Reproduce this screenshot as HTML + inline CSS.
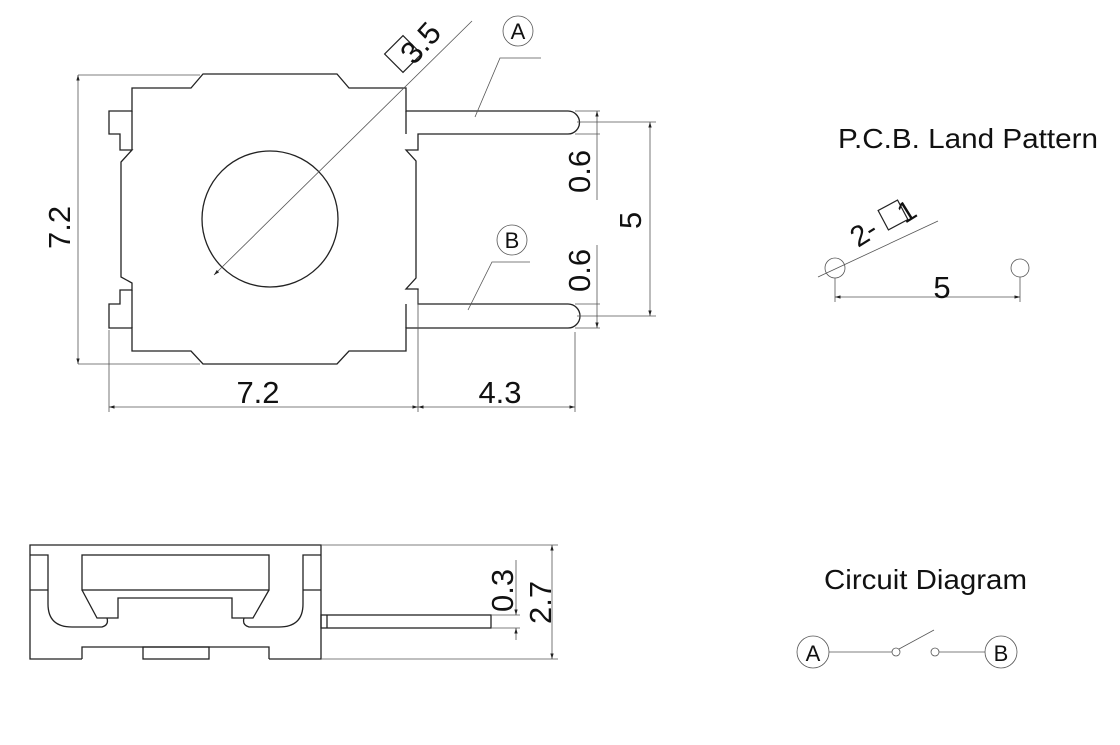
<!DOCTYPE html>
<html><head><meta charset="utf-8"><style>
html,body{margin:0;padding:0;background:#fff;}
svg{display:block;}
text{font-family:"Liberation Sans",sans-serif;fill:#111;}
</style></head><body>
<svg width="1120" height="745" viewBox="0 0 1120 745" xmlns="http://www.w3.org/2000/svg">
<defs>
<marker id="ar" viewBox="0 0 10 6" refX="10" refY="3" markerWidth="7" markerHeight="5" orient="auto-start-reverse"><path d="M0,0 L10,3 L0,6 z" fill="#222"/></marker>
</defs>
<g fill="none" stroke="#222" stroke-width="1.3">
<path d="M132,88 L191,88 L203,74 L337,74 L349,88 L406,88 L406,111 L568,111 A11.5,11.5 0 0 1 568,134 L418,134 L418,150 L406,150 L416,161 L416,278 L406,289 L418,289 L418,304 L568,304 A12,12 0 0 1 568,328 L406,328 L406,351 L349,351 L337,364 L203,364 L191,351 L132,351 L132,328 L109,328 L109,304 L120,304 L120,290 L132,290 L132,283 L121,277 L121,162 L132,150 L120,150 L120,134 L109,134 L109,111 L132,111 Z"/>
<line x1="132" y1="111" x2="132" y2="150"/>
<line x1="132" y1="290" x2="132" y2="328"/>
<line x1="406" y1="111" x2="406" y2="134"/>
<line x1="406" y1="304" x2="406" y2="328"/>
<circle cx="270" cy="219" r="68"/>
<!-- side view -->
<path d="M82,659 L30,659 L30,545 L321,545 L321,659 L269,659"/>
<path d="M30,555 L48,555 L48,604 Q48,627 72,627 L102,627 Q109,625 107,618"/>
<path d="M321,555 L303,555 L303,604 Q303,627 279,627 L249,627 Q242,625 244,618"/>
<rect x="82" y="555" width="187" height="35"/>
<line x1="30" y1="590" x2="48" y2="590"/><line x1="303" y1="590" x2="321" y2="590"/>
<path d="M82,590 L97,618 L118,618 L118,598 L232,598 L232,618 L253,618 L269,590"/>
<path d="M82,659 L82,647 L269,647 L269,659"/>
<rect x="143" y="647" width="66" height="12"/>
<rect x="321" y="615" width="170" height="13"/>
<line x1="327" y1="615" x2="327" y2="628"/>
</g>
<g fill="none" stroke="#555" stroke-width="0.8">
<line x1="214" y1="275" x2="472" y2="21" marker-start="url(#ar)"/>
<polyline points="541,58 500,58 475,117"/>
<polyline points="530,262 492,262 468,310"/>
<circle cx="518" cy="31" r="15"/>
<circle cx="512" cy="240" r="15"/>
<line x1="575" y1="111" x2="600" y2="111"/><line x1="575" y1="134" x2="600" y2="134"/>
<line x1="597" y1="111" x2="597" y2="200" marker-start="url(#ar)"/>
<line x1="575" y1="304" x2="600" y2="304"/><line x1="575" y1="328" x2="600" y2="328"/>
<line x1="597" y1="245" x2="597" y2="328" marker-end="url(#ar)"/>
<line x1="577" y1="122" x2="656" y2="122"/><line x1="577" y1="316" x2="656" y2="316"/>
<line x1="650" y1="122" x2="650" y2="316" marker-start="url(#ar)" marker-end="url(#ar)"/>
<line x1="78" y1="75" x2="200" y2="75"/><line x1="78" y1="364" x2="200" y2="364"/>
<line x1="78" y1="75" x2="78" y2="364" marker-start="url(#ar)" marker-end="url(#ar)"/>
<line x1="109" y1="330" x2="109" y2="412"/><line x1="418" y1="290" x2="418" y2="412"/><line x1="575" y1="332" x2="575" y2="412"/>
<line x1="109" y1="407" x2="418" y2="407" marker-start="url(#ar)" marker-end="url(#ar)"/>
<line x1="418" y1="407" x2="575" y2="407" marker-start="url(#ar)" marker-end="url(#ar)"/>
<line x1="321" y1="545" x2="558" y2="545"/><line x1="321" y1="659" x2="558" y2="659"/>
<line x1="552" y1="545" x2="552" y2="659" marker-start="url(#ar)" marker-end="url(#ar)"/>
<line x1="491" y1="615" x2="520" y2="615"/><line x1="491" y1="628" x2="520" y2="628"/>
<line x1="516" y1="560" x2="516" y2="615" marker-end="url(#ar)"/>
<line x1="516" y1="628" x2="516" y2="640" marker-start="url(#ar)"/>
<circle cx="835" cy="268" r="10"/><circle cx="1020" cy="268" r="9"/>
<line x1="835" y1="278" x2="835" y2="302"/><line x1="1020" y1="277" x2="1020" y2="302"/>
<line x1="835" y1="297" x2="1020" y2="297" marker-start="url(#ar)" marker-end="url(#ar)"/>
<line x1="818" y1="277" x2="938" y2="221"/>
<circle cx="813" cy="652" r="16"/><circle cx="1001" cy="652" r="16"/>
<line x1="829" y1="652" x2="892" y2="652"/>
<circle cx="896" cy="652" r="4"/><circle cx="935" cy="652" r="4"/>
<line x1="899" y1="649" x2="934" y2="630"/>
<line x1="939" y1="652" x2="985" y2="652"/>
</g>
<g fill="none" stroke="#222" stroke-width="1.2">
<rect x="-13" y="-13" width="26" height="26" transform="translate(403,54) rotate(-45)"/>
<rect x="-11" y="-11" width="22" height="22" transform="translate(893,215) rotate(-28)"/>
</g>
<g font-size="31">
<text transform="translate(414,66) rotate(-48)">3.5</text>
<text x="518" y="39" font-size="22" text-anchor="middle">A</text>
<text x="512" y="248" font-size="22" text-anchor="middle">B</text>
<text transform="translate(590,193) rotate(-90)">0.6</text>
<text transform="translate(590,292) rotate(-90)">0.6</text>
<text transform="translate(641,229) rotate(-90)">5</text>
<text transform="translate(70,249) rotate(-90)">7.2</text>
<text x="258" y="403" text-anchor="middle">7.2</text>
<text x="500" y="403" text-anchor="middle">4.3</text>
<text transform="translate(513,612) rotate(-90)">0.3</text>
<text transform="translate(551,624) rotate(-90)">2.7</text>
<text x="838" y="148" font-size="28" textLength="260" lengthAdjust="spacingAndGlyphs">P.C.B. Land Pattern</text>
<text transform="translate(858,248) rotate(-32)" font-size="29">2-</text>
<text transform="translate(905,224) rotate(-32)" font-size="29">1</text>
<text x="942" y="298" text-anchor="middle">5</text>
<text x="824" y="589" font-size="28" textLength="203" lengthAdjust="spacingAndGlyphs">Circuit Diagram</text>
<text x="813" y="661" font-size="22" text-anchor="middle">A</text>
<text x="1001" y="661" font-size="22" text-anchor="middle">B</text>
</g>
</svg>
</body></html>
